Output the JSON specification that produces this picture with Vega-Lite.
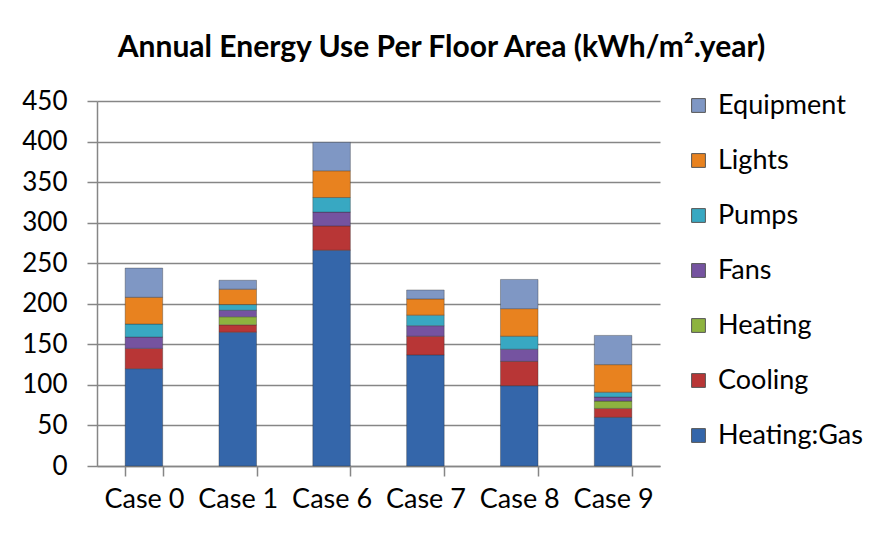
{
  "$schema": "https://vega.github.io/schema/vega-lite/v6.json",
  "autosize": "none",
  "width": 563,
  "height": 365,
  "padding": {"left": 97, "top": 101, "right": 223, "bottom": 68},
  "background": "white",
  "title": {
    "text": "Annual Energy Use Per Floor Area (kWh/m².year)",
    "font": "Lato",
    "fontSize": 30,
    "fontWeight": "bold",
    "color": "#000000",
    "anchor": "middle",
    "frame": "group",
    "dx": 63,
    "offset": 25
  },
  "data": {
    "values": [
      {"case": "Case 0", "component": "Heating:Gas", "value": 120},
      {"case": "Case 0", "component": "Cooling", "value": 25},
      {"case": "Case 0", "component": "Fans", "value": 14},
      {"case": "Case 0", "component": "Pumps", "value": 16},
      {"case": "Case 0", "component": "Lights", "value": 33},
      {"case": "Case 0", "component": "Equipment", "value": 36},
      {"case": "Case 1", "component": "Heating:Gas", "value": 165},
      {"case": "Case 1", "component": "Cooling", "value": 9},
      {"case": "Case 1", "component": "Heating", "value": 10},
      {"case": "Case 1", "component": "Fans", "value": 8},
      {"case": "Case 1", "component": "Pumps", "value": 7},
      {"case": "Case 1", "component": "Lights", "value": 19},
      {"case": "Case 1", "component": "Equipment", "value": 11},
      {"case": "Case 6", "component": "Heating:Gas", "value": 266},
      {"case": "Case 6", "component": "Cooling", "value": 30},
      {"case": "Case 6", "component": "Fans", "value": 17},
      {"case": "Case 6", "component": "Pumps", "value": 18},
      {"case": "Case 6", "component": "Lights", "value": 33},
      {"case": "Case 6", "component": "Equipment", "value": 35},
      {"case": "Case 7", "component": "Heating:Gas", "value": 137},
      {"case": "Case 7", "component": "Cooling", "value": 23},
      {"case": "Case 7", "component": "Fans", "value": 13},
      {"case": "Case 7", "component": "Pumps", "value": 13},
      {"case": "Case 7", "component": "Lights", "value": 20},
      {"case": "Case 7", "component": "Equipment", "value": 11},
      {"case": "Case 8", "component": "Heating:Gas", "value": 99},
      {"case": "Case 8", "component": "Cooling", "value": 30},
      {"case": "Case 8", "component": "Fans", "value": 15},
      {"case": "Case 8", "component": "Pumps", "value": 16},
      {"case": "Case 8", "component": "Lights", "value": 34},
      {"case": "Case 8", "component": "Equipment", "value": 36},
      {"case": "Case 9", "component": "Heating:Gas", "value": 60},
      {"case": "Case 9", "component": "Cooling", "value": 11},
      {"case": "Case 9", "component": "Heating", "value": 9},
      {"case": "Case 9", "component": "Fans", "value": 5},
      {"case": "Case 9", "component": "Pumps", "value": 6},
      {"case": "Case 9", "component": "Lights", "value": 34},
      {"case": "Case 9", "component": "Equipment", "value": 36}
    ]
  },
  "transform": [
    {"calculate": "indexof(['Heating:Gas','Cooling','Heating','Fans','Pumps','Lights','Equipment'], datum.component)", "as": "stackIndex"}
  ],
  "mark": {"type": "bar", "stroke": "#2b2b2b", "strokeOpacity": 0.35, "strokeWidth": 1},
  "encoding": {
    "x": {
      "field": "case",
      "type": "nominal",
      "sort": null,
      "scale": {"paddingInner": 0.6, "paddingOuter": 0.3},
      "axis": {
        "title": null,
        "labelAngle": 0,
        "labelFont": "Lato",
        "labelFontSize": 27,
        "labelColor": "#000000",
        "labelPadding": 10,
        "domainColor": "#868686",
        "domainWidth": 1.5,
        "tickColor": "#868686",
        "tickWidth": 1.5,
        "tickSize": 10,
        "tickBand": "extent"
      }
    },
    "y": {
      "field": "value",
      "type": "quantitative",
      "stack": "zero",
      "scale": {"domain": [0, 450]},
      "axis": {
        "title": null,
        "values": [0, 50, 100, 150, 200, 250, 300, 350, 400, 450],
        "labelFont": "Lato",
        "labelFontSize": 26,
        "labelColor": "#000000",
        "labelPadding": 20,
        "domainColor": "#868686",
        "domainWidth": 1.5,
        "tickColor": "#868686",
        "tickWidth": 1.5,
        "tickSize": 10,
        "gridColor": "#868686",
        "gridWidth": 1.5
      }
    },
    "order": {"field": "stackIndex", "type": "quantitative", "sort": "ascending"},
    "color": {
      "field": "component",
      "type": "nominal",
      "scale": {
        "domain": ["Equipment", "Lights", "Pumps", "Fans", "Heating", "Cooling", "Heating:Gas"],
        "range": ["#7F97C4", "#E8821F", "#38A8C2", "#7553A0", "#8DB33F", "#B83636", "#3466AA"]
      },
      "legend": {
        "title": null,
        "orient": "none",
        "legendX": 588,
        "legendY": -9,
        "padding": 0,
        "symbolType": "square",
        "symbolSize": 190,
        "symbolStrokeWidth": 1,
        "symbolStrokeColor": "#555555",
        "labelFont": "Lato",
        "labelFontSize": 27,
        "labelColor": "#000000",
        "labelOffset": 6,
        "labelLimit": 300,
        "rowPadding": 27
      }
    }
  },
  "config": {
    "view": {"stroke": null}
  }
}
